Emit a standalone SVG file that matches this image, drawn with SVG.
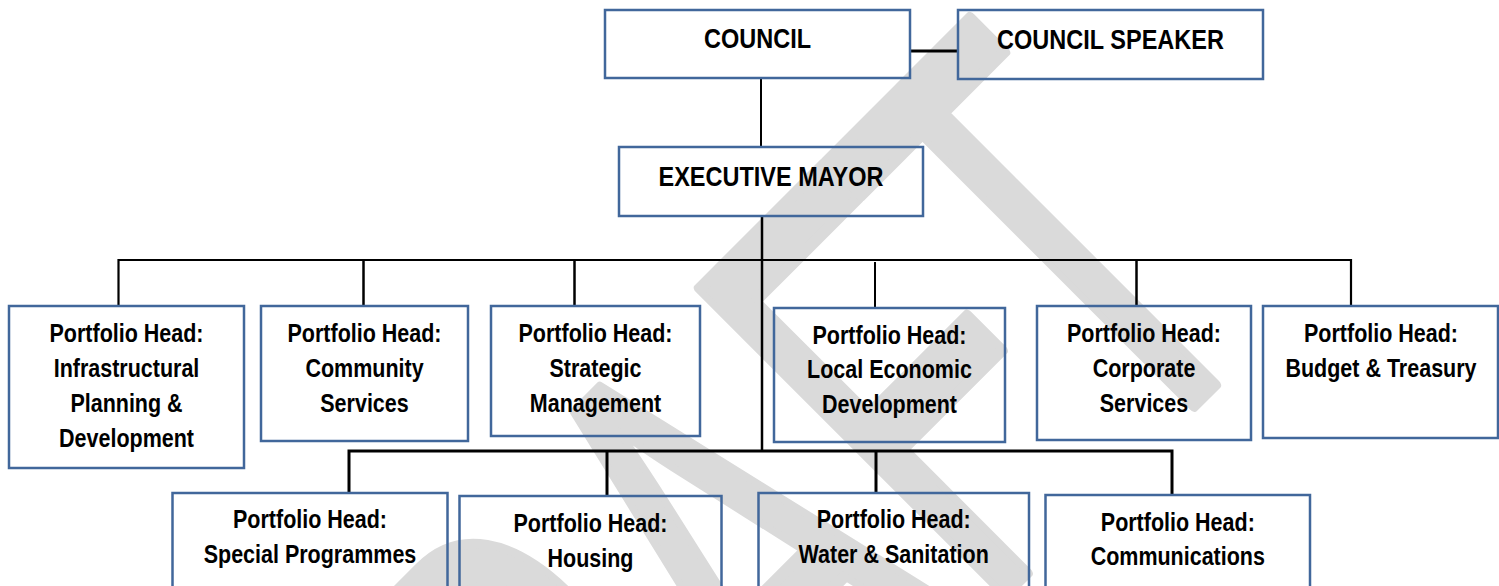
<svg xmlns="http://www.w3.org/2000/svg" width="1499" height="586" viewBox="0 0 1499 586">
  <style>
    .box { fill: none; stroke: #41679b; stroke-width: 2.5; }
    .lbl { font-family: "Liberation Sans", Arial, sans-serif; font-weight: bold; font-size: 25.6px; fill: #000; text-anchor: middle; }
    .ttl { font-size: 28px; }
    .wire { fill: none; stroke: #000; stroke-width: 2.5; }
    .mark { font-family: "Liberation Sans", Arial, sans-serif; font-size: 628px; fill: #dadada; stroke: #dadada; stroke-width: 12; stroke-linejoin: round; font-kerning: none; }
  </style>

  <rect width="1499" height="586" fill="#fff"/>

  <!-- page watermark, behind everything (condensed, set diagonally) -->
  <g id="watermark">
    <text class="mark" x="-888.3 -434.8 18.4 446.7 795" y="1131" transform="rotate(-45) scale(0.58 1)">DRAFT</text>
  </g>

  <!-- reporting lines -->
  <g id="connectors" class="wire">
    <line x1="910" y1="51" x2="958" y2="51" stroke-width="3"/>
    <line x1="761" y1="78" x2="761" y2="147" stroke-width="2"/>
    <line x1="762" y1="216" x2="762" y2="452"/>
    <path d="M118.5 306 V260 H1351 V306" stroke-width="2.2"/>
    <line x1="363.5" y1="260" x2="363.5" y2="306"/>
    <line x1="574.5" y1="260" x2="574.5" y2="306"/>
    <line x1="875" y1="262" x2="875" y2="308" stroke-width="2"/>
    <line x1="1136.5" y1="260" x2="1136.5" y2="306"/>
    <path d="M349 493 V451 H1172 V495" stroke-width="3"/>
    <line x1="607" y1="451" x2="607" y2="496" stroke-width="3"/>
    <line x1="876" y1="451" x2="876" y2="493" stroke-width="3"/>
  </g>

  <g id="council">
    <rect class="box" x="605" y="10" width="305" height="68"/>
    <text class="lbl ttl" transform="translate(757.5 48) scale(0.84 1)">COUNCIL</text>
  </g>
  <g id="council-speaker">
    <rect class="box" x="958" y="10" width="305" height="69"/>
    <text class="lbl ttl" transform="translate(1110.5 49) scale(0.84 1)">COUNCIL SPEAKER</text>
  </g>
  <g id="executive-mayor">
    <rect class="box" x="619" y="147" width="304" height="69"/>
    <text class="lbl ttl" transform="translate(771 186) scale(0.84 1)">EXECUTIVE MAYOR</text>
  </g>

  <g id="ph-infrastructure">
    <rect class="box" x="9" y="306" width="235" height="162"/>
    <text class="lbl" transform="translate(126.5 342) scale(0.84 1)"><tspan x="0">Portfolio Head:</tspan><tspan x="0" dy="35">Infrastructural</tspan><tspan x="0" dy="35">Planning &amp;</tspan><tspan x="0" dy="35">Development</tspan></text>
  </g>
  <g id="ph-community">
    <rect class="box" x="261" y="306" width="207" height="135"/>
    <text class="lbl" transform="translate(364.5 342) scale(0.84 1)"><tspan x="0">Portfolio Head:</tspan><tspan x="0" dy="35">Community</tspan><tspan x="0" dy="35">Services</tspan></text>
  </g>
  <g id="ph-strategic">
    <rect class="box" x="491" y="306" width="209" height="130"/>
    <text class="lbl" transform="translate(595.5 342) scale(0.84 1)"><tspan x="0">Portfolio Head:</tspan><tspan x="0" dy="35">Strategic</tspan><tspan x="0" dy="35">Management</tspan></text>
  </g>
  <g id="ph-led">
    <rect class="box" x="774" y="308" width="231" height="134"/>
    <text class="lbl" transform="translate(889.5 343.5) scale(0.84 1)"><tspan x="0">Portfolio Head:</tspan><tspan x="0" dy="35">Local Economic</tspan><tspan x="0" dy="35">Development</tspan></text>
  </g>
  <g id="ph-corporate">
    <rect class="box" x="1037" y="306" width="214" height="134"/>
    <text class="lbl" transform="translate(1144 342) scale(0.84 1)"><tspan x="0">Portfolio Head:</tspan><tspan x="0" dy="35">Corporate</tspan><tspan x="0" dy="35">Services</tspan></text>
  </g>
  <g id="ph-budget">
    <rect class="box" x="1263" y="306" width="235" height="132"/>
    <text class="lbl" transform="translate(1381 342) scale(0.84 1)"><tspan x="0">Portfolio Head:</tspan><tspan x="0" dy="35">Budget &amp; Treasury</tspan></text>
  </g>

  <g id="ph-special">
    <rect class="box" x="172.5" y="493" width="275" height="120"/>
    <text class="lbl" transform="translate(310 528.3) scale(0.84 1)"><tspan x="0">Portfolio Head:</tspan><tspan x="0" dy="34.5">Special Programmes</tspan></text>
  </g>
  <g id="ph-housing">
    <rect class="box" x="459.5" y="496" width="262" height="120"/>
    <text class="lbl" transform="translate(590.5 531.7) scale(0.84 1)"><tspan x="0">Portfolio Head:</tspan><tspan x="0" dy="35">Housing</tspan></text>
  </g>
  <g id="ph-water">
    <rect class="box" x="758.5" y="493" width="270.5" height="120"/>
    <text class="lbl" transform="translate(893.7 528.3) scale(0.84 1)"><tspan x="0">Portfolio Head:</tspan><tspan x="0" dy="34.5">Water &amp; Sanitation</tspan></text>
  </g>
  <g id="ph-communications">
    <rect class="box" x="1045.5" y="495" width="264.5" height="120"/>
    <text class="lbl" transform="translate(1177.8 530.7) scale(0.84 1)"><tspan x="0">Portfolio Head:</tspan><tspan x="0" dy="34.5">Communications</tspan></text>
  </g>
</svg>
